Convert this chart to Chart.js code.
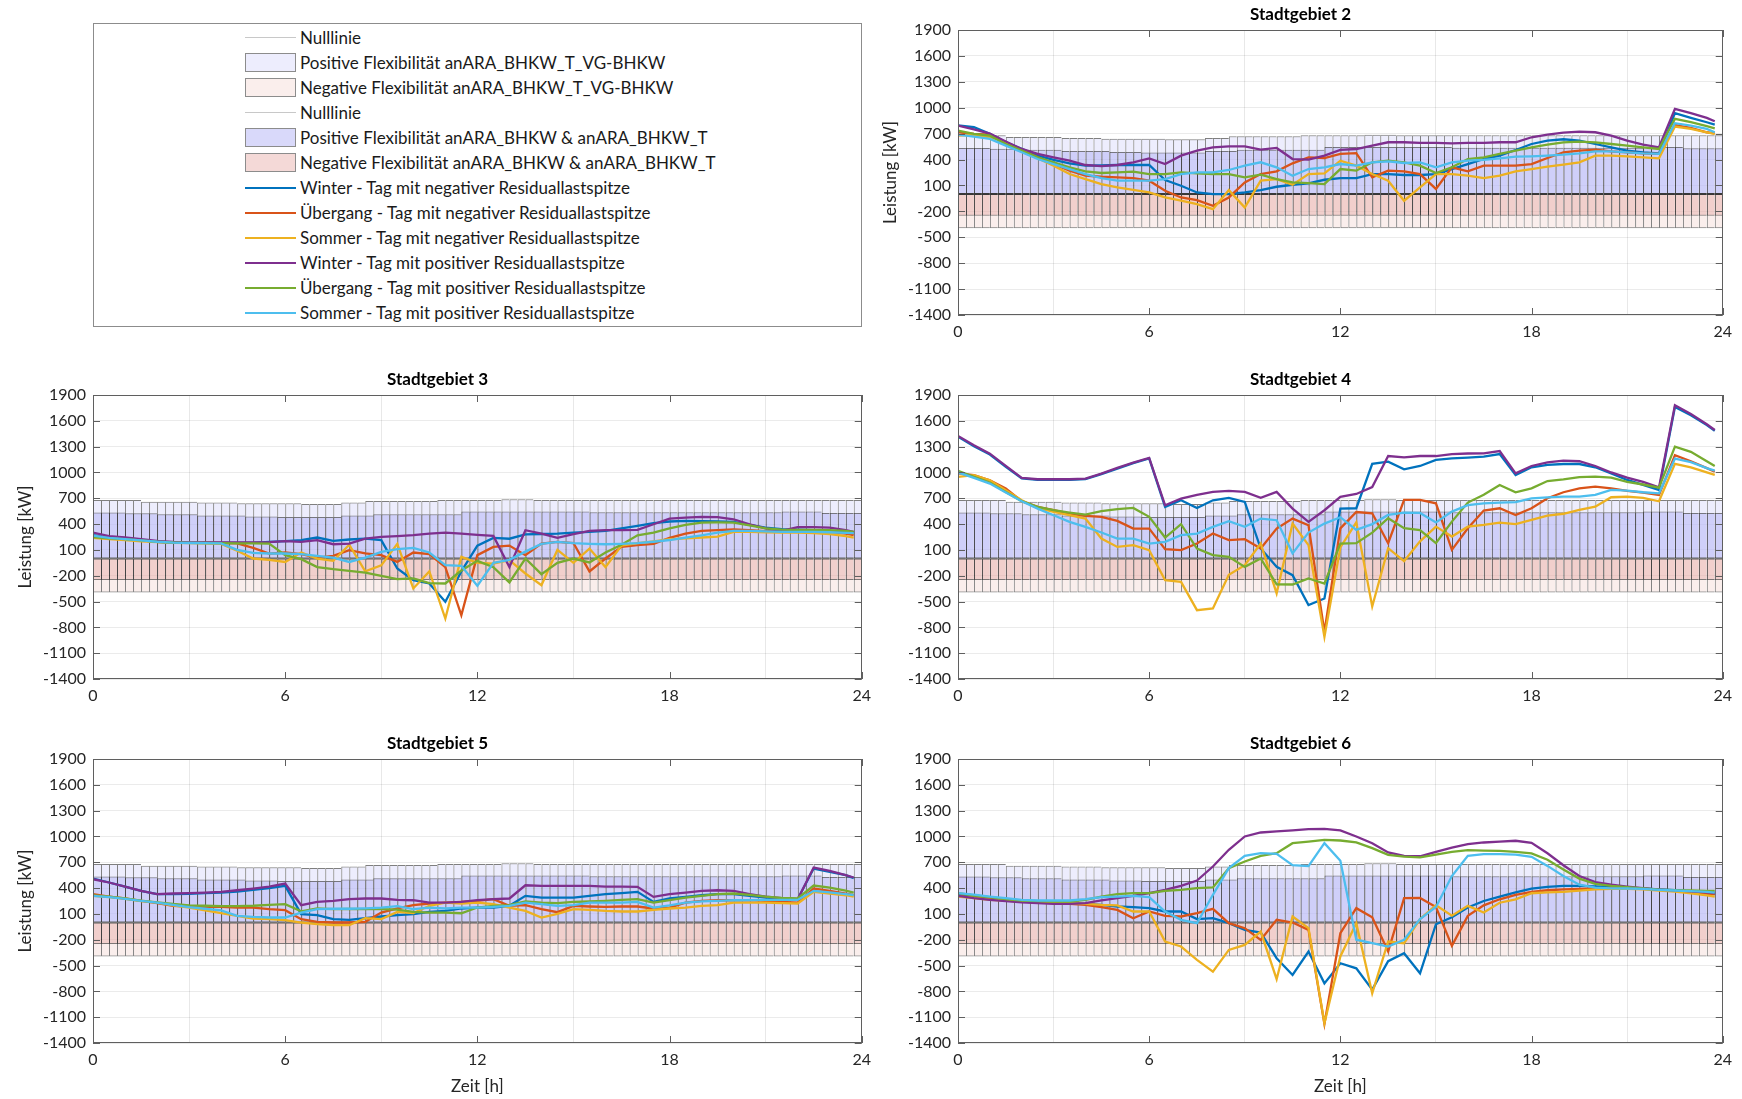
<!DOCTYPE html>
<html>
<head>
<meta charset="utf-8">
<title>Flexibilität Stadtgebiete</title>
<script src="https://cdn.jsdelivr.net/npm/chart.js@4.4.1/dist/chart.umd.min.js"></script>
<style>
  body { margin: 0; width: 1742px; height: 1099px; overflow: hidden; position: relative; background: #fff; font-family: Lato, "Open Sans", sans-serif; }
  .panel { position: absolute; }
  #legend { position: absolute; left: 93px; top: 23px; width: 767px; height: 302px; border: 1px solid #8c8c8c; }
  .lg-row { position: absolute; height: 25px; line-height: 25px; font-size: 17px; color: #1a1a1a; white-space: nowrap; }
  .lg-line { position: absolute; height: 2px; }
  .lg-patch { position: absolute; box-sizing: border-box; border: 1.5px solid #8c8c8c; }
</style>
</head>
<body>
<div id="legend"></div>
<script>
// time grid of the load curves [h]
const HOURS = [0,0.5,1,1.5,2,2.5,3,3.5,4,4.5,5,5.5,6,6.5,7,7.5,8,8.5,9,9.5,10,10.5,11,11.5,
               12,12.5,13,13.5,14,14.5,15,15.5,16,16.5,17,17.5,18,18.5,19,19.5,20,20.5,21,21.5,22,22.5,23,23.5,23.75];
const Y_TICKS = [-1400,-1100,-800,-500,-200,100,400,700,1000,1300,1600,1900];
const X_TICKS = [0,6,12,18,24];

const SERIES_NAMES = [
  'Winter - Tag mit negativer Residuallastspitze',
  'Übergang - Tag mit negativer Residuallastspitze',
  'Sommer - Tag mit negativer Residuallastspitze',
  'Winter - Tag mit positiver Residuallastspitze',
  'Übergang - Tag mit positiver Residuallastspitze',
  'Sommer - Tag mit positiver Residuallastspitze'
];
const SERIES_COLORS = ['#0072BD','#D95319','#EDB120','#7E2F8E','#77AC30','#4DBEEE'];

// flexibility bands, one value per quarter hour [kW]
const FLEX_POS_VG = [
  680,680,680,680,680,680,661,661,661,661,661,661,
  661,650,650,650,650,650,642,642,642,642,642,642,
  642,642,634,634,634,634,634,650,650,650,669,669,
  669,669,669,669,669,669,669,680,680,680,680,680,
  680,680,680,688,688,688,688,680,680,680,680,680,
  680,680,680,680,680,680,680,680,680,680,680,680,
  680,680,680,680,680,680,680,680,680,680,680,680,
  680,680,680,680,680,680,680,680,680,680,680,680];
const FLEX_NEG_VG = [
  -395,-395,-395,-395,-395,-395,-395,-395,-395,-395,-395,-395,
  -395,-395,-395,-395,-395,-395,-395,-395,-395,-395,-395,-395,
  -395,-395,-395,-395,-395,-395,-395,-395,-395,-395,-395,-395,
  -395,-395,-395,-395,-395,-395,-395,-395,-395,-395,-395,-395,
  -395,-395,-395,-395,-395,-395,-395,-395,-395,-395,-395,-395,
  -395,-395,-395,-395,-395,-395,-395,-395,-395,-395,-395,-395,
  -395,-395,-395,-395,-395,-395,-395,-395,-395,-395,-395,-395,
  -395,-395,-395,-395,-395,-395,-395,-395,-395,-395,-395,-395];
const FLEX_POS_BHKW = [
  534,534,534,534,526,526,526,526,514,514,514,514,
  514,499,499,499,499,499,499,488,488,488,488,483,
  483,483,483,483,483,483,483,499,499,499,499,514,
  514,514,514,514,514,514,514,514,514,514,545,545,
  545,545,545,545,545,545,545,545,545,545,545,545,
  545,545,537,537,537,537,537,537,537,537,537,537,
  537,537,537,537,537,537,537,537,537,537,537,537,
  537,537,545,545,545,545,545,530,530,530,530,530];
const FLEX_NEG_BHKW = [
  -250,-250,-250,-250,-250,-250,-250,-250,-250,-250,-250,-250,
  -250,-250,-250,-250,-250,-250,-250,-250,-250,-250,-250,-250,
  -250,-250,-250,-250,-250,-250,-250,-250,-250,-250,-250,-250,
  -250,-250,-250,-250,-250,-250,-250,-250,-250,-250,-250,-250,
  -250,-250,-250,-250,-250,-250,-250,-250,-250,-250,-250,-250,
  -250,-250,-250,-250,-250,-250,-250,-250,-250,-250,-250,-250,
  -250,-250,-250,-250,-250,-250,-250,-250,-250,-250,-250,-250,
  -250,-250,-250,-250,-250,-250,-250,-250,-250,-250,-250,-250];

// Stadtgebiet 2
const s2WinterNeg = [795,774,697,600,523,445,395,356,329,333,337,337,
  337,163,97,19,0,0,19,46,85,108,124,166,
  186,186,232,232,221,221,232,290,348,406,445,511,
  580,620,635,620,580,542,503,484,472,937,883,832,805];
const s2UebergangNeg = [716,697,689,600,511,426,348,271,213,201,194,186,
  155,39,-39,-70,-135,-39,135,232,263,356,426,418,
  465,475,194,271,263,232,60,310,263,329,329,329,
  348,418,484,503,515,495,484,472,465,801,766,716,704];
const s2SommerNeg = [677,690,658,600,503,414,329,232,174,116,77,50,
  19,-39,-77,-116,-174,46,-155,155,174,108,232,240,
  387,329,232,155,-77,77,232,232,213,186,213,263,
  290,317,341,368,445,445,437,426,414,782,755,716,697];
const s2WinterPos = [794,750,700,610,523,465,426,387,337,325,337,368,
  414,348,445,503,542,553,553,515,534,406,400,445,
  511,522,561,600,600,592,592,588,592,592,600,600,
  658,689,712,724,716,677,620,573,542,987,937,883,844];
const s2UebergangPos = [735,697,677,580,503,426,368,310,263,244,252,259,
  232,232,252,240,232,232,194,225,174,135,128,116,
  290,271,368,387,368,329,244,310,406,426,465,503,
  542,573,600,608,600,580,561,542,523,871,832,786,762];
const s2SommerPos = [689,666,639,561,484,406,348,290,232,186,155,155,
  155,174,232,252,252,279,329,368,310,213,290,310,
  348,329,368,379,360,368,310,368,387,395,414,433,
  437,445,456,472,495,495,484,472,465,821,794,755,716];

// Stadtgebiet 3
const s3WinterNeg = [271,244,232,213,194,186,182,182,182,182,182,194,
  201,213,244,205,221,232,213,-116,-252,-290,-503,-150,
  150,240,230,280,285,290,302,310,321,350,379,410,
  430,437,435,430,425,390,360,340,335,330,320,305,300];
const s3UebergangNeg = [260,240,232,213,194,186,182,182,180,175,124,58,
  70,50,10,30,97,60,40,-39,70,50,-100,-660,
  39,135,150,39,174,194,180,-150,0,135,155,170,
  240,290,320,330,337,329,317,317,317,317,310,290,271];
const s3SommerNeg = [240,225,215,200,190,182,178,175,170,90,0,-15,
  -40,70,0,-27,160,-150,-80,170,-348,-150,-697,19,
  -50,-60,-20,-174,-310,100,-50,115,-100,150,178,200,
  224,235,244,255,310,310,305,300,300,295,285,260,244];
const s3WinterPos = [300,260,245,225,205,192,188,186,186,186,188,190,
  201,194,213,166,174,232,252,260,271,290,300,290,
  275,263,-100,329,290,240,282,321,329,330,333,398,
  464,475,483,480,456,398,350,321,365,365,360,330,309];
const s3UebergangPos = [250,235,225,210,195,186,182,180,178,175,175,174,
  40,-8,-100,-124,-143,-163,-201,-240,-230,-285,-290,-140,
  -27,-100,-278,0,-182,-50,0,-46,70,160,270,300,
  350,390,418,420,418,385,350,335,333,333,330,322,310];
const s3SommerPos = [265,240,225,210,195,185,180,178,176,100,65,58,
  58,50,30,10,-40,10,77,110,124,70,-77,-85,
  -317,-50,-15,80,170,193,178,170,166,170,178,195,
  215,244,270,300,321,321,315,310,310,310,305,298,294];

// Stadtgebiet 4
const s4WinterNeg = [1415,1306,1209,1066,930,915,915,915,922,980,1045,1108,
  1162,600,677,588,677,705,658,116,-97,-194,-542,-465,
  580,584,1100,1125,1036,1075,1145,1164,1172,1183,1214,970,
  1060,1087,1098,1098,1060,990,913,855,797,1760,1665,1550,1485];
const s4UebergangNeg = [990,968,910,813,666,600,561,523,495,484,437,348,
  348,108,97,174,290,213,225,116,348,464,387,-852,
  350,540,526,178,681,681,642,100,352,557,584,506,
  584,700,770,816,835,816,785,766,739,1200,1130,1050,1009];
const s4SommerNeg = [948,968,910,794,677,588,542,503,464,232,135,155,
  97,-252,-271,-600,-580,-190,-77,174,-406,406,155,-910,
  130,420,-557,120,-30,200,371,255,370,391,418,400,
  449,499,520,565,603,712,719,705,665,1100,1060,1000,971];
const s4WinterPos = [1425,1316,1219,1076,937,921,921,921,929,987,1053,1115,
  1169,619,697,740,774,786,774,705,774,580,426,561,
  716,750,830,1191,1176,1191,1191,1214,1220,1222,1249,990,
  1075,1117,1137,1130,1075,1000,940,890,826,1780,1680,1560,1493];
const s4UebergangPos = [1018,948,883,774,666,600,561,534,511,550,573,588,
  484,244,399,116,39,19,-97,0,-300,-302,-232,-290,
  174,178,300,468,352,330,178,429,650,740,855,770,
  816,900,920,945,951,940,890,860,824,1300,1240,1130,1075];
const s4SommerPos = [1000,937,871,766,666,580,503,426,368,302,232,232,
  174,194,271,290,368,433,368,464,445,60,302,406,
  480,333,400,507,534,530,420,545,620,640,650,655,
  700,710,719,719,740,797,790,770,758,1160,1120,1050,1021];

// Stadtgebiet 5
const s5WinterNeg = [511,465,418,368,329,330,333,341,348,360,380,400,
  426,97,85,39,31,50,70,85,97,124,135,163,
  174,174,194,310,290,290,290,310,329,341,356,240,
  279,298,317,329,329,310,290,279,271,627,588,550,515];
const s5UebergangNeg = [329,302,279,252,225,194,186,182,182,174,174,155,
  143,39,8,0,0,8,116,163,201,221,232,240,
  252,271,194,201,155,120,194,186,182,186,186,163,
  174,232,252,259,259,259,252,240,232,395,368,337,317];
const s5SommerNeg = [310,295,275,250,232,200,174,140,108,77,46,39,
  27,0,-19,-31,-31,50,40,124,110,194,232,221,
  232,213,174,135,58,100,155,147,135,128,128,147,
  163,174,194,201,232,232,232,225,221,356,337,317,302];
const s5WinterPos = [503,465,418,368,329,337,341,348,356,375,395,418,
  453,201,240,252,271,279,279,263,259,232,232,240,
  259,271,279,433,426,426,426,426,418,418,414,298,
  329,348,368,375,368,329,302,283,271,639,600,550,523];
const s5UebergangPos = [315,300,280,255,235,215,200,195,190,190,195,205,
  213,130,163,155,158,155,155,150,124,116,116,108,
  174,194,201,244,232,225,240,244,252,263,271,232,
  260,290,310,329,337,320,300,285,279,430,405,370,348];
const s5SommerPos = [310,295,275,252,232,205,180,160,140,77,65,58,
  58,116,155,160,160,165,174,190,155,174,163,174,
  174,182,194,232,213,194,201,232,232,232,240,174,
  200,232,245,252,259,260,262,263,263,368,350,330,317];

// Stadtgebiet 6
const s6WinterNeg = [322,302,283,264,252,244,233,225,217,205,186,178,
  167,128,128,39,50,-8,-85,-116,-415,-609,-337,-707,
  -473,-532,-780,-450,-357,-590,-20,60,174,250,300,350,
  395,414,426,426,420,410,400,395,385,375,360,340,329];
const s6UebergangNeg = [310,290,271,255,244,235,225,217,205,178,147,50,
  128,77,70,108,159,-8,-66,-202,31,0,-85,-1180,
  -124,167,60,-337,283,285,180,-271,77,200,270,320,
  355,375,385,392,395,395,395,390,380,370,355,335,329];
const s6SommerNeg = [302,285,264,255,244,238,233,225,217,205,198,128,
  128,-221,-279,-434,-570,-318,-260,-105,-659,70,-66,-1170,
  -395,-8,-822,-221,-240,40,200,80,194,116,230,270,
  340,350,356,370,385,390,390,385,370,360,340,315,302];
const s6WinterPos = [310,283,264,248,233,225,217,217,225,256,283,310,
  341,380,426,488,651,845,1000,1046,1058,1070,1085,1089,
  1070,1000,922,814,775,770,820,870,910,930,940,950,
  925,805,665,540,470,440,418,398,382,373,362,350,341];
const s6UebergangPos = [341,314,295,271,256,248,244,244,264,302,329,341,
  341,368,380,399,407,632,709,775,806,922,941,961,
  953,930,864,787,765,758,790,820,840,835,832,820,
  803,730,615,510,450,425,410,395,382,377,372,368,366];
const s6SommerPos = [341,325,302,283,264,256,256,256,271,295,302,310,
  295,128,31,-8,322,632,775,806,798,667,655,922,
  717,-200,-240,-279,-200,40,180,540,774,794,794,790,
  763,658,540,440,405,397,395,390,380,372,365,355,348];

const NULL_T = [0, 24];
const NULL_V = [0, 0];

// quarter-hour bar centres
const QUARTER_HOURS = FLEX_POS_VG.map((_, k) => k * 0.25 + 0.125);

const FONT = 'Lato, "Open Sans", sans-serif';
const AXIS_COLOR = '#5f5f5f';
const ZERO_COLOR = '#c8c8c8';
const FILL_POS_VG = 'rgba(214,214,250,0.45)';
const FILL_NEG_VG = 'rgba(240,200,192,0.30)';
const FILL_POS_BHKW = 'rgba(170,170,245,0.45)';
const FILL_NEG_BHKW = 'rgba(228,165,160,0.42)';
const BAR_EDGE = 'rgba(0,0,0,0.5)';

Chart.defaults.font.family = FONT;
Chart.defaults.color = '#262626';
Chart.defaults.animation = false;

const Y_W = 80, TITLE_H = 30, PAD_R = 16;

// axes box with inward tick marks, drawn over everything
const frame = {
  id: 'frame',
  afterDraw(chart) {
    const { ctx, chartArea: a, scales: { x, y } } = chart;
    ctx.save();
    ctx.strokeStyle = AXIS_COLOR;
    ctx.lineWidth = 1;
    ctx.strokeRect(Math.round(a.left) + 0.5, Math.round(a.top) + 0.5,
                   Math.round(a.right - a.left) - 1, Math.round(a.bottom - a.top) - 1);
    ctx.beginPath();
    Y_TICKS.forEach(v => {
      const py = Math.round(y.getPixelForValue(v)) + 0.5;
      ctx.moveTo(a.left, py); ctx.lineTo(a.left + 7, py);
      ctx.moveTo(a.right, py); ctx.lineTo(a.right - 7, py);
    });
    X_TICKS.forEach(v => {
      const px = Math.round(x.getPixelForValue(v)) + 0.5;
      ctx.moveTo(px, a.bottom); ctx.lineTo(px, a.bottom - 7);
      ctx.moveTo(px, a.top); ctx.lineTo(px, a.top + 7);
    });
    ctx.stroke();
    ctx.restore();
  }
};

function barSet(label, vals, color, order) {
  return {
    type: 'bar', label,
    data: vals.map((v, k) => ({ x: QUARTER_HOURS[k], y: v })),
    backgroundColor: color,
    borderColor: BAR_EDGE,
    borderWidth: { left: 1, right: 0, top: 1, bottom: 1 },
    borderSkipped: false,
    grouped: false,
    barPercentage: 1,
    categoryPercentage: 1,
    inflateAmount: 0,
    order
  };
}

function makePanel(title, rect, lines, yTitle, xTitle) {
  const [L, T, R, B] = rect;
  const xH = xTitle ? 54 : 30;
  const w = R - L + Y_W + PAD_R;
  const h = B - T + TITLE_H + xH;

  const box = document.createElement('div');
  box.className = 'panel';
  box.style.left = (L - Y_W) + 'px';
  box.style.top = (T - TITLE_H) + 'px';
  const cv = document.createElement('canvas');
  cv.width = w; cv.height = h;
  cv.style.width = w + 'px'; cv.style.height = h + 'px';
  box.appendChild(cv);
  document.body.appendChild(box);

  const datasets = lines.map((vals, i) => ({
    type: 'line',
    label: SERIES_NAMES[i],
    data: vals.map((v, j) => ({ x: HOURS[j], y: v })),
    borderColor: SERIES_COLORS[i],
    borderWidth: 2.3,
    pointRadius: 0,
    tension: 0,
    fill: false,
    order: 5 - i
  }));
  datasets.push(
    barSet('Positive Flexibilität anARA_BHKW & anARA_BHKW_T', FLEX_POS_BHKW, FILL_POS_BHKW, 7),
    barSet('Negative Flexibilität anARA_BHKW & anARA_BHKW_T', FLEX_NEG_BHKW, FILL_NEG_BHKW, 8),
    barSet('Positive Flexibilität anARA_BHKW_T_VG-BHKW', FLEX_POS_VG, FILL_POS_VG, 9),
    barSet('Negative Flexibilität anARA_BHKW_T_VG-BHKW', FLEX_NEG_VG, FILL_NEG_VG, 10),
    {
      type: 'line', label: 'Nulllinie',
      data: NULL_T.map((t, j) => ({ x: t, y: NULL_V[j] })),
      borderColor: ZERO_COLOR, borderWidth: 1, pointRadius: 0, order: 12
    }
  );

  new Chart(cv, {
    type: 'line',
    data: { datasets },
    options: {
      responsive: false,
      layout: { padding: { left: 0, right: PAD_R, top: 0, bottom: 0 } },
      plugins: {
        legend: { display: false },
        tooltip: { enabled: false },
        title: {
          display: true, text: title, color: '#000',
          font: { size: 17, weight: 'bold' },
          padding: { top: 4, bottom: 5.6 }
        }
      },
      scales: {
        x: {
          type: 'linear', min: 0, max: 24, offset: false,
          afterBuildTicks: s => { s.ticks = X_TICKS.map(v => ({ value: v })); },
          afterFit: s => { s.height = xH; },
          grid: { color: 'rgba(0,0,0,0.09)', drawTicks: false },
          border: { display: false },
          ticks: { font: { size: 16 }, padding: 7, maxRotation: 0, autoSkip: false, callback: v => String(v) },
          title: { display: xTitle, text: 'Zeit [h]', font: { size: 17 }, padding: { top: 0, bottom: 0 } }
        },
        y: {
          type: 'linear', min: -1400, max: 1900,
          afterBuildTicks: s => { s.ticks = Y_TICKS.map(v => ({ value: v })); },
          afterFit: s => { s.width = Y_W; },
          grid: { color: 'rgba(0,0,0,0.08)', drawTicks: false },
          border: { display: false },
          ticks: { font: { size: 16 }, padding: 7, autoSkip: false, callback: v => String(v) },
          title: { display: yTitle, text: 'Leistung [kW]', font: { size: 17 }, padding: { top: 2, bottom: 0 } }
        }
      }
    },
    plugins: [frame]
  });
}

makePanel('Stadtgebiet 2', [958, 30, 1723, 315],
  [s2WinterNeg, s2UebergangNeg, s2SommerNeg, s2WinterPos, s2UebergangPos, s2SommerPos], true, false);
makePanel('Stadtgebiet 3', [93, 395, 862, 679],
  [s3WinterNeg, s3UebergangNeg, s3SommerNeg, s3WinterPos, s3UebergangPos, s3SommerPos], true, false);
makePanel('Stadtgebiet 4', [958, 395, 1723, 679],
  [s4WinterNeg, s4UebergangNeg, s4SommerNeg, s4WinterPos, s4UebergangPos, s4SommerPos], false, false);
makePanel('Stadtgebiet 5', [93, 759, 862, 1043],
  [s5WinterNeg, s5UebergangNeg, s5SommerNeg, s5WinterPos, s5UebergangPos, s5SommerPos], true, true);
makePanel('Stadtgebiet 6', [958, 759, 1723, 1043],
  [s6WinterNeg, s6UebergangNeg, s6SommerNeg, s6WinterPos, s6UebergangPos, s6SommerPos], false, true);

// shared legend box in the empty top-left tile
const LEGEND_ITEMS = [
  { label: 'Nulllinie', line: ZERO_COLOR },
  { label: 'Positive Flexibilität anARA_BHKW_T_VG-BHKW', patch: FILL_POS_VG },
  { label: 'Negative Flexibilität anARA_BHKW_T_VG-BHKW', patch: FILL_NEG_VG },
  { label: 'Nulllinie', line: ZERO_COLOR },
  { label: 'Positive Flexibilität anARA_BHKW & anARA_BHKW_T', patch: FILL_POS_BHKW },
  { label: 'Negative Flexibilität anARA_BHKW & anARA_BHKW_T', patch: FILL_NEG_BHKW }
].concat(SERIES_NAMES.map((n, i) => ({ label: n, line: SERIES_COLORS[i] })));

const legend = document.getElementById('legend');
LEGEND_ITEMS.forEach((it, i) => {
  const row = document.createElement('div');
  row.className = 'lg-row';
  row.style.top = (i * 25 + 1.2) + 'px';
  row.style.left = '0px';
  row.style.width = '760px';
  if (it.line) {
    const ln = document.createElement('div');
    ln.className = 'lg-line';
    ln.style.left = '151px'; ln.style.width = '51px'; ln.style.top = '11.5px';
    ln.style.background = it.line;
    if (it.line === ZERO_COLOR) ln.style.height = '1.5px';
    row.appendChild(ln);
  } else {
    const p = document.createElement('div');
    p.className = 'lg-patch';
    p.style.left = '151px'; p.style.width = '51px'; p.style.top = '3px'; p.style.height = '19px';
    p.style.background = it.patch;
    row.appendChild(p);
  }
  const tx = document.createElement('span');
  tx.textContent = it.label;
  tx.style.position = 'absolute';
  tx.style.left = '206px';
  row.appendChild(tx);
  legend.appendChild(row);
});
</script>
</body>
</html>
